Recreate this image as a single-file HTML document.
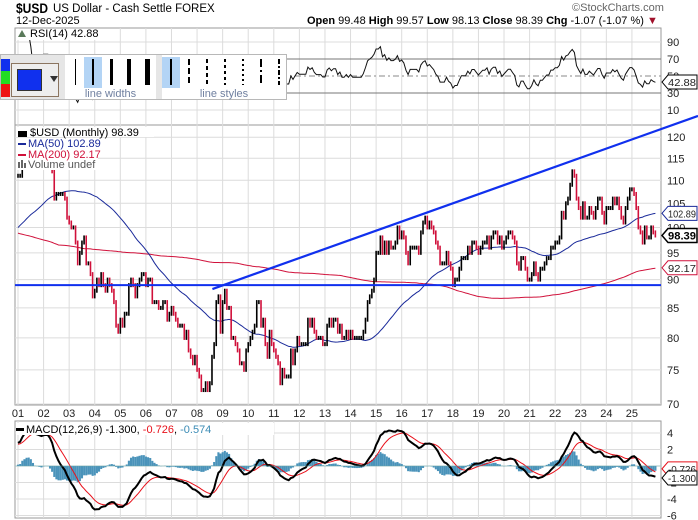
<!DOCTYPE html>
<html><head><meta charset="utf-8">
<style>
body{margin:0;background:#fff;width:698px;height:520px;overflow:hidden;font-family:"Liberation Sans",sans-serif}
svg{position:absolute;left:0;top:0}
text{font-family:"Liberation Sans",sans-serif}
</style></head><body>
<svg id="chart" width="698" height="520" viewBox="0 0 698 520"></svg>
<script>
// ---- data ----
const preYears = [1984,1985,1986,1987,1988,1989,1990,1991,1992,1993,1994,1995,1996,1997,1998,1999,2000];
const preYearAvg = [138,140,112,97,92,98,89,89,86,93,91,84,87,96,98,99,107];
const years = [2001,2002,2003,2004,2005,2006,2007,2008,2009,2010,2011,2012,2013,2014,2015,2016,2017,2018,2019,2020,2021,2022,2023,2024,2025];
const yearLabels = ["01","02","03","04","05","06","07","08","09","10","11","12","13","14","15","16","17","18","19","20","21","22","23","24","25"];
const closes = [
111,111,117,117,119,119,117,113,113,116,116,116,
119,119,119,115,112,106,107,107,107,107,106,102,
101,100,100,97,93,95,97,98,93,93,91,87,
88,90,89,91,89,88,90,89,88,86,82,81,
83,82,84,84,89,90,89,87,89,90,91,91,
89,90,90,86,86,86,85,85,86,86,83,84,
85,84,83,82,82,82,80,81,78,77,76,77,
75,74,72,72,73,72,73,77,79,86,87,81,
86,88,85,85,80,80,79,78,76,76,75,78,
79,80,81,82,86,86,82,83,79,77,81,79,
78,77,76,73,75,74,74,74,78,76,78,80,
79,79,79,79,83,82,83,81,80,80,80,79,
79,82,83,82,83,83,81,82,80,80,81,80,
81,80,80,80,80,80,81,83,86,87,88,90,
95,95,98,95,97,95,97,96,96,97,100,98,
99,98,95,93,96,96,96,96,95,99,101,102,
100,101,100,99,97,96,93,93,93,95,93,92,
89,90,90,92,94,94,94,96,95,97,97,96,
95,96,97,97,98,96,98,99,99,97,98,96,
97,98,99,99,98,97,93,92,94,94,92,90,
90,91,93,91,90,92,92,93,94,94,96,96,
97,97,98,103,102,105,106,109,112,111,106,104,
102,105,102,102,104,103,102,104,106,106,103,101,
104,104,104,106,105,106,104,102,101,104,106,108,
108,107,104,100,99,97,100,98,98,100,99,98.39];
const priceTicks = [120,115,110,105,100,95,90,85,80,75,70];
const rsiTicks = [90,70,50,30,10];
const macdTicks = [4,2,0,-2,-4,-6];
const supportLevel = [89];
const trendStart = [2008.6, 88.3];
const trendEnd = [2022.75, 114.6];

// ---- scales ----
const X0 = 15, X1 = 661;
const xm = m => 18 + m * 25.58 / 12;
const xy = yr => 18 + (yr - 2001) * 25.58;
const yP = p => 404 - 495 * (Math.log(p) - Math.log(70));
const yR = v => 42 + (90 - v) * 0.85;
const yM = v => 466 - v * 8.25;

const svg = document.getElementById('chart');
const NS = 'http://www.w3.org/2000/svg';
function el(tag, attrs, parent){const e=document.createElementNS(NS,tag);for(const k in attrs)e.setAttribute(k,attrs[k]);(parent||svg).appendChild(e);return e;}
function txt(s, attrs, parent){const t=el('text',attrs,parent);t.textContent=s;return t;}

const full = [];
preYearAvg.forEach(v=>{for(let i=0;i<12;i++)full.push(v);});
const off = full.length;
closes.forEach(v=>full.push(v));
function sma(n,i){let s=0;for(let k=i-n+1;k<=i;k++)s+=full[Math.max(0,k)];return s/n;}
function ema(arr,n){const a=2/(n+1);const o=[];arr.forEach((v,i)=>o.push(i?o[i-1]+a*(v-o[i-1]):v));return o;}
const e12=ema(full,12), e26=ema(full,26);
const macd=full.map((v,i)=>e12[i]-e26[i]);
const sig=ema(macd,9);
const rsi=[];{let ag=0,al=0;for(let i=1;i<full.length;i++){const d=full[i]-full[i-1];const g=Math.max(d,0),l=Math.max(-d,0);ag=(ag*13+g)/14;al=(al*13+l)/14;rsi[i]=al===0?100:100-100/(1+ag/al);} rsi[0]=50;}

const gridC='#dcdcdc', borderC='#9a9a9a';
const panels=[['rsi-panel',28,125],['price-panel',125,405],['macd-panel',421,518]];
panels.forEach(([n,t,b])=>{const r=el('rect',{x:X0,y:t,width:X1-X0,height:b-t,fill:'#fff',stroke:borderC,'stroke-width':1});

});
const vg=el('g',{});


years.forEach(yr=>{const x=xy(yr);panels.forEach(([n,t,b])=>el('line',{x1:x,x2:x,y1:t,y2:b,stroke:gridC},vg));});
const ax=el('g',{'font-size':11,fill:'#222'});


priceTicks.forEach(p=>{const y=yP(p);if(y>127&&y<405){el('line',{x1:X0,x2:X1,y1:y,y2:y,stroke:gridC},vg);}txt(String(p),{x:667,y:y+4},ax);});
rsiTicks.forEach(v=>{const y=yR(v);el('line',{x1:X0,x2:X1,y1:y,y2:y,stroke:(v==70||v==30)?'#777':(v==50?'#888':gridC),'stroke-dasharray':v==50?'6,3,2,3':''},vg);txt(String(v),{x:667,y:y+4},ax);});
macdTicks.forEach(v=>{const y=yM(v);if(y>422&&y<517)el('line',{x1:X0,x2:X1,y1:y,y2:y,stroke:gridC},vg);txt(String(v),{x:667,y:y+4},ax);});
const xl=el('g',{'font-size':11,fill:'#222','text-anchor':'middle'});


years.forEach((yr,i)=>txt(yearLabels[i],{x:xy(yr),y:417},xl));

// RSI
const rsiClip=el('clipPath',{id:'rc'});el('rect',{x:X0,y:28,width:X1-X0,height:97},rsiClip);
let rp='';closes.forEach((c,i)=>{rp+=(i?'L':'M')+xm(i).toFixed(1)+','+yR(rsi[off+i]).toFixed(1);});
const rl=el('path',{d:rp,fill:'none',stroke:'#111','stroke-width':1,'clip-path':'url(#rc)'});



// price
const pc=el('clipPath',{id:'pc'});el('rect',{x:X0,y:125,width:X1-X0,height:280},pc);
let m50='',m200='';closes.forEach((c,i)=>{m50+=(i?'L':'M')+xm(i).toFixed(1)+','+yP(sma(50,off+i)).toFixed(1);m200+=(i?'L':'M')+xm(i).toFixed(1)+','+yP(sma(200,off+i)).toFixed(1);});
const l200=el('path',{d:m200,fill:'none',stroke:'#d0103a','stroke-width':1,'clip-path':'url(#pc)'});


const l50=el('path',{d:m50,fill:'none',stroke:'#1a2a9a','stroke-width':1,'clip-path':'url(#pc)'});


const bars=el('g',{'clip-path':'url(#pc)'});


closes.forEach((c,i)=>{const o=i?closes[i-1]:c;const x=xm(i);let y1=yP(Math.max(o,c))-2,y2=yP(Math.min(o,c))+2;
const b=el('line',{x1:x,x2:x,y1:y1,y2:y2,stroke:c>=o?'#000':'#d0103a','stroke-width':1.6},bars);

});
const sl=el('line',{x1:X0,x2:X1,y1:yP(supportLevel[0]),y2:yP(supportLevel[0]),stroke:'#1030ee','stroke-width':2});


const tx1=xy(trendStart[0]),ty1=yP(trendStart[1]),tx2=xy(trendEnd[0]),ty2=yP(trendEnd[1]);
const slope=(ty2-ty1)/(tx2-tx1);
const tl=el('line',{x1:tx1,y1:ty1,x2:698,y2:ty1+slope*(698-tx1),stroke:'#1030ee','stroke-width':2.2});



// MACD
const mc=el('clipPath',{id:'mc'});el('rect',{x:X0,y:421,width:X1-X0,height:97},mc);
const hg=el('g',{'clip-path':'url(#mc)'});


closes.forEach((c,i)=>{const h=macd[off+i]-sig[off+i];const y=yM(h);el('rect',{x:xm(i)-1,y:Math.min(y,yM(0)),width:2.1,height:Math.abs(y-yM(0)),fill:'#4a93ba'},hg);});
let mp='',sp='';closes.forEach((c,i)=>{mp+=(i?'L':'M')+xm(i).toFixed(1)+','+yM(macd[off+i]).toFixed(1);sp+=(i?'L':'M')+xm(i).toFixed(1)+','+yM(sig[off+i]).toFixed(1);});
const sgl=el('path',{d:sp,fill:'none',stroke:'#e8101a','stroke-width':1,'clip-path':'url(#mc)'});


const mcl=el('path',{d:mp,fill:'none',stroke:'#000','stroke-width':2,'clip-path':'url(#mc)'});


el('line',{x1:X0,x2:X1,y1:yM(0),y2:yM(0),stroke:'#6aa',"stroke-width":0.6});

// legends with white background
function legendBg(x,y,w,h){el('rect',{x:x,y:y,width:w,height:h,fill:'#fff'});}
legendBg(16,29,86,11);
legendBg(16,127,138,10);
legendBg(16,138,82,32);
legendBg(16,423,258,12);

function tag(name,val,y,col,bold){const g=el('g',{});


el('path',{d:`M662,${y} L668,${y-7} L697,${y-7} L697,${y+7} L668,${y+7} Z`,fill:'#fff',stroke:col,'stroke-width':bold?1.5:1},g);
txt(val,{x:668,y:y+4,'font-size':bold?11:10.5,fill:bold?'#000':'#222','font-weight':bold?'bold':'normal',textLength:28,lengthAdjust:'spacingAndGlyphs'},g);}
tag('ma50-tag','102.89',yP(102.89),'#1a2a9a');
tag('close-tag','98.39',yP(98.39),'#000',true);
tag('ma200-tag','92.17',yP(92.17),'#d0103a');
tag('rsi-tag','42.88',yR(42.88),'#000');
tag('signal-tag','-0.726',yM(-0.35),'#e8101a');
tag('macd-tag','-1.300',yM(-1.45),'#000');
</script>

<svg width="698" height="520" style="pointer-events:none">
<g><text x="16" y="13" font-size="14" font-weight="bold" fill="#000" textLength="32" lengthAdjust="spacingAndGlyphs">$USD</text><text x="53" y="12" font-size="11.5" fill="#000">US Dollar - Cash Settle FOREX</text></g>
<text x="16" y="24" font-size="11" fill="#000">12-Dec-2025</text>
<text x="307" y="24" font-size="11" fill="#000"><tspan font-weight="bold">Open</tspan> 99.48 <tspan font-weight="bold">High</tspan> 99.57 <tspan font-weight="bold">Low</tspan> 98.13 <tspan font-weight="bold">Close</tspan> 98.39 <tspan font-weight="bold">Chg</tspan> -1.07 (-1.07 %) <tspan fill="#a0102a">▼</tspan></text>
<text x="572" y="11" font-size="11" fill="#666">©StockCharts.com</text>
<text x="30" y="37" font-size="11" fill="#000">RSI(14) 42.88</text>
<path d="M18,37 L22,30 L26,37 Z" fill="#5a7a5a"/>
<g font-size="11">
<text x="30" y="136" fill="#000">$USD (Monthly) 98.39</text>
<text x="28" y="147" fill="#1a2a9a">MA(50) 102.89</text>
<text x="28" y="158" fill="#d0103a">MA(200) 92.17</text>
<text x="28" y="168" fill="#555">Volume undef</text>
<rect x="18" y="131" width="9" height="6" fill="#000"/>
<rect x="18" y="143" width="8" height="2" fill="#1a2a9a"/><rect x="18" y="154" width="8" height="2" fill="#d0103a"/>
<rect x="18" y="162" width="2" height="6" fill="#666"/><rect x="21" y="160" width="2" height="8" fill="#666"/><rect x="24" y="163" width="2" height="5" fill="#666"/>
</g>
<g font-size="11">
<rect x="16" y="428" width="8" height="3" fill="#000"/>
<text x="26" y="433" fill="#000">MACD(12,26,9) -1.300, <tspan fill="#e8101a">-0.726</tspan>, <tspan fill="#3a8bb5">-0.574</tspan></text>
</g>
</svg>

<div style="position:absolute;left:0;top:54px;width:287px;height:46px;background:#e6e6e6;border:1px solid #b8b8b8;box-sizing:border-box">
 <div style="position:absolute;left:0;top:4px;width:9px;height:12px;background:#1030ee"></div>
 <div style="position:absolute;left:0;top:16px;width:9px;height:13px;background:#22dd22"></div>
 <div style="position:absolute;left:0;top:29px;width:9px;height:13px;background:#ee1111"></div>
 <div style="position:absolute;left:10px;top:8px;width:48px;height:34px;background:#eee;border:1px solid #8b7560;box-sizing:border-box">
  <div style="position:absolute;left:5px;top:5px;width:25px;height:22px;background:#1030ee;border:1px solid #333;box-sizing:border-box"></div>
  <div style="position:absolute;left:38px;top:12px;width:0;height:0;border-left:4px solid transparent;border-right:4px solid transparent;border-top:6px solid #333"></div>
 </div>
 <div style="position:absolute;left:64px;top:0;width:91px;height:44px;background:#fff">
  <div style="position:absolute;left:19px;top:2px;width:18px;height:31px;background:#b3d4f5"></div>
  <div style="position:absolute;left:10px;top:4px;width:1px;height:26px;background:#000"></div>
  <div style="position:absolute;left:27px;top:4px;width:2px;height:26px;background:#000"></div>
  <div style="position:absolute;left:45px;top:4px;width:3px;height:26px;background:#000"></div>
  <div style="position:absolute;left:62px;top:4px;width:4px;height:26px;background:#000"></div>
  <div style="position:absolute;left:80px;top:4px;width:5px;height:26px;background:#000"></div>
  <div style="position:absolute;left:0;top:33px;width:91px;text-align:center;font-size:11px;color:#7080a0">line widths</div>
 </div>
 <div style="position:absolute;left:161px;top:0;width:124px;height:44px;background:#fff">
  <div style="position:absolute;left:0;top:2px;width:18px;height:31px;background:#b3d4f5"></div>
  <svg width="124" height="34" style="position:absolute;left:0;top:0">
   <g stroke="#000" stroke-width="2">
    <line x1="9" y1="4" x2="9" y2="30"/>
    <line x1="27" y1="4" x2="27" y2="30" stroke-dasharray="6,3"/>
    <line x1="45" y1="4" x2="45" y2="30" stroke-dasharray="4,3"/>
    <line x1="63" y1="4" x2="63" y2="30" stroke-dasharray="3,3"/>
    <line x1="81" y1="4" x2="81" y2="30" stroke-dasharray="2,3"/>
    <line x1="99" y1="4" x2="99" y2="30" stroke-dasharray="8,3,2,3"/>
    <line x1="117" y1="4" x2="117" y2="30" stroke-dasharray="5,2,2,2"/>
   </g>
  </svg>
  <div style="position:absolute;left:0;top:33px;width:124px;text-align:center;font-size:11px;color:#7080a0">line styles</div>
 </div>
</div>
</body></html>
